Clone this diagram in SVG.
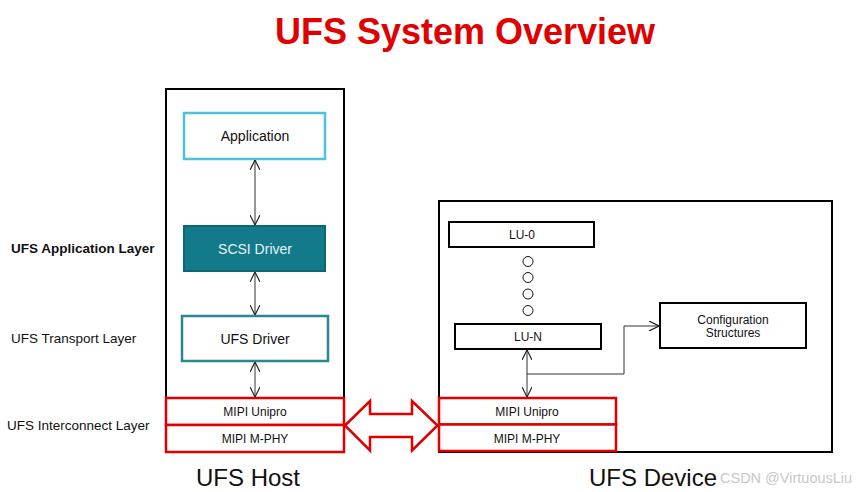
<svg xmlns="http://www.w3.org/2000/svg" width="858" height="492" viewBox="0 0 858 492">
<defs>
<style>
text{font-family:"Liberation Sans",Arial,sans-serif;fill:#111;}
.c{text-anchor:middle;}
.box{fill:#fff;stroke:#000;stroke-width:2;}
.red{fill:#fff;stroke:#E00000;stroke-width:2.5;}
.conn{fill:none;stroke:#333;stroke-width:1;}
.t12{font-size:12px;}
.t14{font-size:14px;}
.lbl{font-size:13.5px;}
</style>
<marker id="ah" viewBox="0 0 10 10" refX="10" refY="5" markerWidth="10" markerHeight="10" markerUnits="userSpaceOnUse" orient="auto-start-reverse">
<path d="M0,0 L10,5 L0,10" fill="none" stroke="#222" stroke-width="1.2"/>
</marker>
</defs>
<rect width="858" height="492" fill="#fff"/>
<text x="465" y="44" class="c" style="font-size:36px;font-weight:bold;fill:#E00000">UFS System Overview</text>

<g id="layer-labels">
<text x="11" y="253" style="font-size:13.5px;font-weight:bold">UFS Application Layer</text>
<text x="11" y="343" class="lbl">UFS Transport Layer</text>
<text x="7" y="430" class="lbl">UFS Interconnect Layer</text>
</g>

<g id="host">
<rect x="166" y="89" width="178" height="363" class="box"/>
<text x="248" y="486" class="c" style="font-size:24px">UFS Host</text>
</g>
<g id="application">
<rect x="184" y="113" width="141" height="46" fill="#fff" stroke="#4DC3DA" stroke-width="2.5"/>
<text x="255" y="141" class="c t14">Application</text>
</g>
<g id="scsi-driver">
<rect x="184" y="226" width="141" height="45" fill="#127A8A" stroke="#0D6773" stroke-width="2"/>
<text x="255" y="254" class="c t14" style="fill:#E8F4F5">SCSI Driver</text>
</g>
<g id="ufs-driver">
<rect x="182" y="316" width="146" height="45" fill="#fff" stroke="#2A8793" stroke-width="2.5"/>
<text x="255" y="344" class="c t14">UFS Driver</text>
</g>
<g id="host-unipro">
<rect x="166" y="398" width="178" height="27" class="red"/>
<text x="255" y="416" class="c t12">MIPI Unipro</text>
</g>
<g id="host-mphy">
<rect x="166" y="425" width="178" height="27" class="red"/>
<text x="255" y="443" class="c t12">MIPI M-PHY</text>
</g>

<g id="device">
<rect x="439" y="201" width="393" height="251" class="box"/>
<text x="653" y="486" class="c" style="font-size:24px">UFS Device</text>
</g>
<g id="lu-0">
<rect x="449" y="222" width="145" height="25" class="box"/>
<text x="522" y="239" class="c t12">LU-0</text>
</g>
<g id="dots" fill="#fff" stroke="#111" stroke-width="1">
<circle cx="528" cy="261.5" r="5"/>
<circle cx="528" cy="277.5" r="5"/>
<circle cx="528" cy="294" r="5"/>
<circle cx="528" cy="310.5" r="5"/>
</g>
<g id="lu-n">
<rect x="455" y="324" width="146" height="25" class="box"/>
<text x="528" y="341" class="c t12">LU-N</text>
</g>
<g id="config">
<rect x="660" y="303" width="146" height="45" class="box"/>
<text x="733" y="324" class="c t12">Configuration</text>
<text x="733" y="337" class="c t12">Structures</text>
</g>
<g id="dev-unipro">
<rect x="439" y="398" width="177" height="26.5" class="red"/>
<text x="527" y="416" class="c t12">MIPI Unipro</text>
</g>
<g id="dev-mphy">
<rect x="439" y="424.5" width="177" height="26.5" class="red"/>
<text x="527" y="443" class="c t12">MIPI M-PHY</text>
</g>

<g id="connectors">
<line x1="255" y1="160" x2="255" y2="225" class="conn" marker-start="url(#ah)" marker-end="url(#ah)"/>
<line x1="255" y1="272" x2="255" y2="315" class="conn" marker-start="url(#ah)" marker-end="url(#ah)"/>
<line x1="255" y1="362" x2="255" y2="397" class="conn" marker-start="url(#ah)" marker-end="url(#ah)"/>
<line x1="527" y1="350" x2="527" y2="397" class="conn" marker-start="url(#ah)" marker-end="url(#ah)"/>
<polyline points="527,374 624,374 624,326 659,326" class="conn" marker-end="url(#ah)"/>
<path d="M345,425.5 L370,401 L370,414 L412,414 L412,401 L437.5,425.5 L412,450.5 L412,437 L370,437 L370,450.5 Z" fill="#fff" stroke="#E00000" stroke-width="2.5" stroke-linejoin="miter"/>
</g>

<text x="720" y="483" style="font-size:14.5px;fill:#C8C8C8">CSDN @VirtuousLiu</text>
</svg>
